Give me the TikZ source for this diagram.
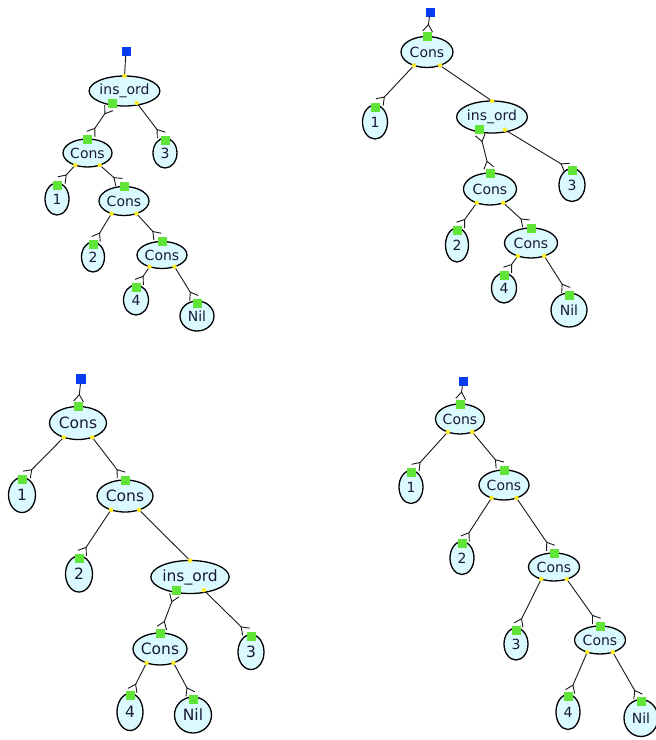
\documentclass[tikz,border=0pt]{standalone}
\usepackage{fontspec}
\setmainfont{DejaVu Sans}
\usetikzlibrary{arrows.meta,shapes.geometric}
\definecolor{ellfill}{RGB}{218,250,255}
\definecolor{portgreen}{RGB}{96,228,56}
\definecolor{portyellow}{RGB}{255,236,40}
\definecolor{rootblue}{RGB}{8,60,240}
\definecolor{txt}{RGB}{25,25,55}
\def\EF{\fontsize{14}{15}\selectfont}
\tikzset{
 ell/.style={ellipse, draw=black, line width=1.3pt, fill=ellfill, inner sep=0pt, outer sep=0pt, text=txt, font=\EF},
 gsq/.style={rectangle, fill=portgreen, minimum size=9pt, inner sep=0pt, outer sep=0pt},
 ydot/.style={circle, fill=portyellow, minimum size=4.5pt, inner sep=0pt, outer sep=0pt},
 bsq/.style={rectangle, fill=rootblue, minimum size=9pt, inner sep=0pt, outer sep=0pt},
 wire/.style={draw=black!90, line width=0.9pt},
 tochild/.style={-{Straight Barb[reversed,length=7pt,width=10pt,line width=0.9pt]}},
 bothends/.style={{Straight Barb[reversed,length=7pt,width=10pt,line width=0.9pt]}-{Straight Barb[reversed,length=7pt,width=10pt,line width=0.9pt]}},
}
\newcommand\MkCons[5]{%
 \node[ell,minimum width=#4pt,minimum height=#5pt] (#1) at (#2,#3) {Cons};
 \node[gsq] (#1-p) at ({#2},{#3-#5/2}) {};
 \node[ydot] (#1-l) at ({#2-0.25*#4},{#3+0.433*#5}) {};
 \node[ydot] (#1-r) at ({#2+0.25*#4},{#3+0.433*#5}) {};}
\newcommand\MkIns[5]{%
 \node[ell,minimum width=#4pt,minimum height=#5pt] (#1) at (#2,#3) {ins\_ord};
 \node[ydot] (#1-t) at ({#2},{#3-#5/2}) {};
 \node[gsq] (#1-p) at ({#2-0.19*#4},{#3+0.4*#5}) {};
 \node[ydot] (#1-r) at ({#2+0.19*#4},{#3+0.4*#5}) {};}
\newcommand\MkLeaf[6]{%
 \node[ell,minimum width=#4pt,minimum height=#5pt] (#1) at (#2,#3) {#6};
 \node[gsq] (#1-p) at ({#2},{#3-#5/2+2}) {};}
\begin{document}
\begin{tikzpicture}[x=1pt,y=-1pt]
\useasboundingbox[fill=white] (0,0) rectangle (656,740);
% ---------- tree 1 ----------
\node[bsq] (r1) at (126,51) {};
\MkIns{i1}{124.5}{91}{65}{30}
\MkCons{a1}{87.5}{153}{49}{28}
\MkLeaf{three1}{165}{153}{24}{30}{3}
\MkLeaf{one1}{57}{199}{24}{32}{1}
\MkCons{b1}{124}{201}{50}{29}
\MkLeaf{two1}{93}{257}{23}{30}{2}
\MkCons{c1}{162}{255}{50}{27}
\MkLeaf{four1}{136}{300}{25}{30}{4}
\MkLeaf{nil1}{197}{316}{34}{30}{Nil}
\draw[wire] (r1) -- (i1-t);
\draw[wire,bothends] (i1-p) -- (a1-p);
\draw[wire,tochild] (i1-r) -- (three1-p);
\draw[wire,tochild] (a1-l) -- (one1-p);
\draw[wire,tochild] (a1-r) -- (b1-p);
\draw[wire,tochild] (b1-l) -- (two1-p);
\draw[wire,tochild] (b1-r) -- (c1-p);
\draw[wire,tochild] (c1-l) -- (four1-p);
\draw[wire,tochild] (c1-r) -- (nil1-p);
% ---------- tree 2 ----------
\node[bsq] (r2) at (430,12) {};
\MkCons{a2}{427}{52}{52}{31}
\MkLeaf{one2}{375}{122}{25}{34}{1}
\MkIns{i2}{492}{117}{68}{32}
\MkCons{b2}{490}{189}{53}{32}
\MkLeaf{three2}{572}{185}{26}{33}{3}
\MkLeaf{two2}{457}{245}{23}{34}{2}
\MkCons{c2}{531}{243}{53}{30}
\MkLeaf{four2}{504}{288}{25}{30}{4}
\MkLeaf{nil2}{569}{310}{36}{34}{Nil}
\draw[wire,tochild] (r2) -- (a2-p);
\draw[wire,tochild] (a2-l) -- (one2-p);
\draw[wire] (a2-r) -- (i2-t);
\draw[wire,bothends] (i2-p) -- (b2-p);
\draw[wire,tochild] (i2-r) -- (three2-p);
\draw[wire,tochild] (b2-l) -- (two2-p);
\draw[wire,tochild] (b2-r) -- (c2-p);
\draw[wire,tochild] (c2-l) -- (four2-p);
\draw[wire,tochild] (c2-r) -- (nil2-p);
% ---------- tree 3 ----------
\def\EF{\fontsize{15.5}{16}\selectfont}
\node[bsq,minimum size=10pt] (r3) at (81,379) {};
\MkCons{a3}{78}{423}{57}{33}
\MkLeaf{one3}{22}{495}{27}{35}{1}
\MkCons{b3}{125}{496}{56}{32}
\MkLeaf{two3}{79}{574}{27}{36}{2}
\MkIns{i3}{190}{577}{73}{33}
\MkCons{c3}{160}{649}{54}{32}
\MkLeaf{three3}{251}{652}{26}{35}{3}
\MkLeaf{four3}{130}{712}{26}{37}{4}
\MkLeaf{nil3}{193}{715}{37}{36}{Nil}
\draw[wire,tochild] (r3) -- (a3-p);
\draw[wire,tochild] (a3-l) -- (one3-p);
\draw[wire,tochild] (a3-r) -- (b3-p);
\draw[wire,tochild] (b3-l) -- (two3-p);
\draw[wire] (b3-r) -- (i3-t);
\draw[wire,bothends] (i3-p) -- (c3-p);
\draw[wire,tochild] (i3-r) -- (three3-p);
\draw[wire,tochild] (c3-l) -- (four3-p);
\draw[wire,tochild] (c3-r) -- (nil3-p);
% ---------- tree 4 ----------
\def\EF{\fontsize{14}{15}\selectfont}
\node[bsq] (r4) at (463,381) {};
\MkCons{a4}{460}{419}{49}{30}
\MkLeaf{one4}{411}{487}{24}{33}{1}
\MkCons{b4}{504}{485}{50}{30}
\MkLeaf{two4}{462}{558}{24}{33}{2}
\MkCons{c4}{554}{567}{51}{28}
\MkLeaf{three4}{516}{644}{24}{32}{3}
\MkCons{d4}{600}{640}{51}{28}
\MkLeaf{four4}{568}{712}{24}{35}{4}
\MkLeaf{nil4}{641}{718}{34}{37}{Nil}
\draw[wire,tochild] (r4) -- (a4-p);
\draw[wire,tochild] (a4-l) -- (one4-p);
\draw[wire,tochild] (a4-r) -- (b4-p);
\draw[wire,tochild] (b4-l) -- (two4-p);
\draw[wire,tochild] (b4-r) -- (c4-p);
\draw[wire,tochild] (c4-l) -- (three4-p);
\draw[wire,tochild] (c4-r) -- (d4-p);
\draw[wire,tochild] (d4-l) -- (four4-p);
\draw[wire,tochild] (d4-r) -- (nil4-p);
\end{tikzpicture}
\end{document}
